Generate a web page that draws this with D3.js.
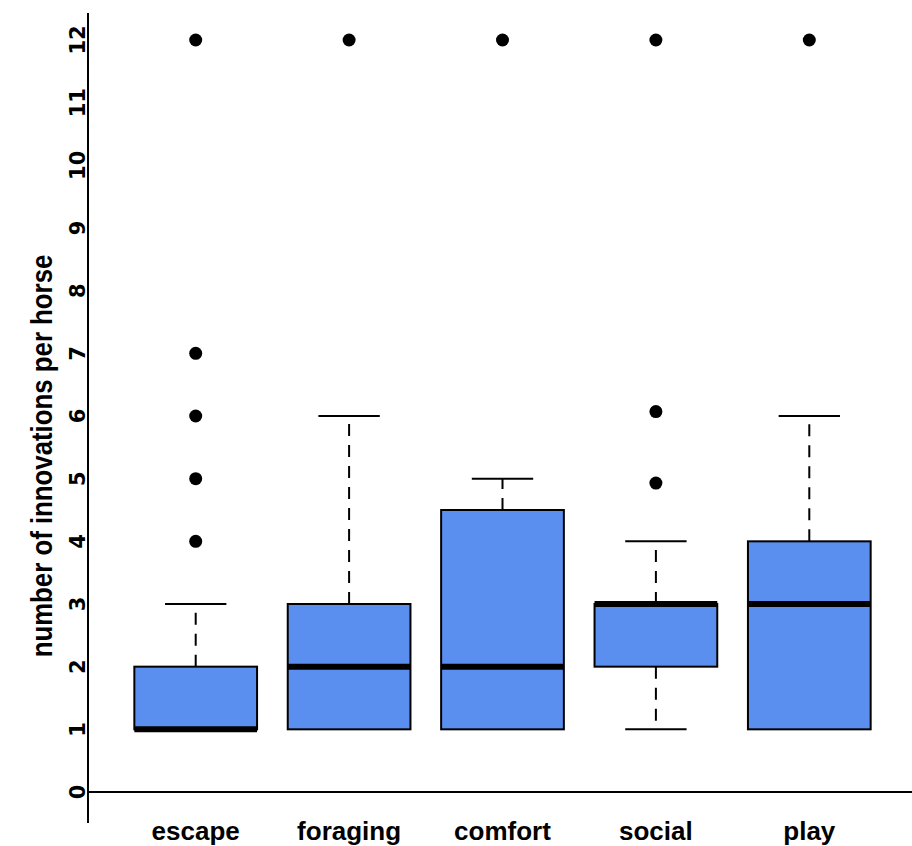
<!DOCTYPE html>
<html>
<head>
<meta charset="utf-8">
<script src="https://cdn.jsdelivr.net/npm/d3@7"></script>
<style>
  body { margin: 0; background: #fff; }
  text { font-family: "Liberation Sans", Arial, sans-serif; font-weight: bold; fill: #000; }
  text.ytick { font-family: "DejaVu Sans", sans-serif; }
</style>
</head>
<body>
<svg id="chart"></svg>
<script>
const categories = ["escape", "foraging", "comfort", "social", "play"];
const q1 = [1, 1, 1, 2, 1];
const medians = [1, 2, 2, 3, 3];
const q3 = [2, 3, 4.5, 3, 4];
const whiskerLow = [1, 1, 1, 1, 1];
const whiskerHigh = [3, 6, 5, 4, 6];
const outliers = [
    [4, 5, 6, 7, 12],
    [12],
    [12],
    [4.93, 6.07, 12],
    [12]
];
const yTicks = [0, 1, 2, 3, 4, 5, 6, 7, 8, 9, 10, 11, 12];

const svg = d3.select("#chart")
    .attr("width", 912)
    .attr("height", 846);

const y = d3.scaleLinear()
    .domain([0, 12])
    .range([792, 40]);

const x = d3.scaleBand()
    .domain(categories)
    .range([119, 886])
    .paddingInner(0.2)
    .paddingOuter(0.1);

const boxW = x.bandwidth();
const capW = boxW / 2;
const cx = boxW / 2;

// y axis, labels only
svg.append("line")
    .attr("x1", 88).attr("x2", 88)
    .attr("y1", 13).attr("y2", 823)
    .attr("stroke", "#000").attr("stroke-width", 2);

svg.selectAll(".ytick")
    .data(yTicks)
    .enter().append("text")
    .attr("class", "ytick")
    .attr("transform", d => `translate(85,${y(d)}) rotate(-90)`)
    .attr("text-anchor", "middle")
    .attr("font-size", 21)
    .text(d => d);

// zero line
svg.append("line")
    .attr("x1", 88).attr("x2", 912)
    .attr("y1", y(0)).attr("y2", y(0))
    .attr("stroke", "#000").attr("stroke-width", 2);

// title is condensed along its length
svg.append("text")
    .attr("transform", `translate(52,456) scale(1,0.86) rotate(-90)`)
    .attr("text-anchor", "middle")
    .attr("font-size", 30)
    .text("number of innovations per horse");

const groups = svg.selectAll(".box")
    .data(categories)
    .enter().append("g")
    .attr("class", "box")
    .attr("transform", d => `translate(${x(d)},0)`);

// upper whisker
groups.append("line")
    .attr("x1", cx).attr("x2", cx)
    .attr("y1", (d, i) => y(q3[i])).attr("y2", (d, i) => y(whiskerHigh[i]))
    .attr("stroke", "#000").attr("stroke-width", 2)
    .attr("stroke-dasharray", "12,9");

groups.append("line")
    .attr("x1", cx - capW / 2).attr("x2", cx + capW / 2)
    .attr("y1", (d, i) => y(whiskerHigh[i])).attr("y2", (d, i) => y(whiskerHigh[i]))
    .attr("stroke", "#000").attr("stroke-width", 2);

// lower whisker, only where it has length
groups.filter((d, i) => whiskerLow[i] < q1[i]).each(function(d) {
    const i = categories.indexOf(d);
    const g = d3.select(this);
    g.append("line")
        .attr("x1", cx).attr("x2", cx)
        .attr("y1", y(q1[i])).attr("y2", y(whiskerLow[i]))
        .attr("stroke", "#000").attr("stroke-width", 2)
        .attr("stroke-dasharray", "12,9");
    g.append("line")
        .attr("x1", cx - capW / 2).attr("x2", cx + capW / 2)
        .attr("y1", y(whiskerLow[i])).attr("y2", y(whiskerLow[i]))
        .attr("stroke", "#000").attr("stroke-width", 2);
});

groups.append("rect")
    .attr("x", 0)
    .attr("width", boxW)
    .attr("y", (d, i) => y(q3[i]))
    .attr("height", (d, i) => y(q1[i]) - y(q3[i]))
    .attr("fill", "#5a8ff0")
    .attr("stroke", "#000")
    .attr("stroke-width", 2);

groups.append("line")
    .attr("x1", 0).attr("x2", boxW)
    .attr("y1", (d, i) => y(medians[i])).attr("y2", (d, i) => y(medians[i]))
    .attr("stroke", "#000").attr("stroke-width", 6);

groups.each(function(d) {
    const i = categories.indexOf(d);
    d3.select(this).selectAll("circle")
        .data(outliers[i])
        .enter().append("circle")
        .attr("cx", cx)
        .attr("cy", v => y(v))
        .attr("r", 6.5)
        .attr("fill", "#000");
});

svg.selectAll(".xlab")
    .data(categories)
    .enter().append("text")
    .attr("class", "xlab")
    .attr("x", d => x(d) + boxW / 2)
    .attr("y", 840)
    .attr("text-anchor", "middle")
    .attr("font-size", 26)
    .text(d => d);
</script>
</body>
</html>
